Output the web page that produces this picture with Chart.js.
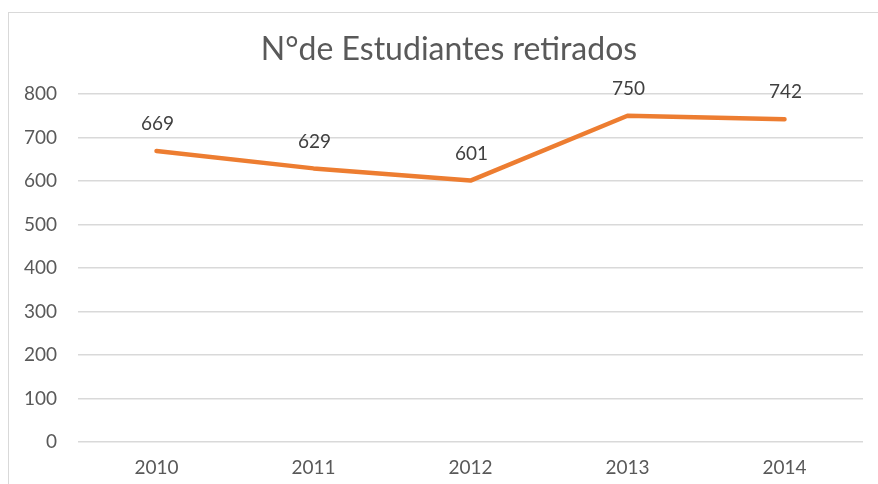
<!DOCTYPE html>
<html>
<head>
<meta charset="utf-8">
<script src="https://cdn.jsdelivr.net/npm/chart.js@4/dist/chart.umd.min.js"></script>
<style>
  html, body { margin: 0; padding: 0; background: #fff; }
  #wrap { position: relative; width: 878px; height: 484px; overflow: hidden; }
  #frame {
    position: absolute; left: 8px; top: 12px; width: 900px; height: 500px;
    border-left: 1px solid #d9d9d9; border-top: 1px solid #d9d9d9;
  }
  #chartCanvas { position: absolute; left: 0; top: 0; }
</style>
</head>
<body>
<div id="wrap">
  <div id="frame"></div>
  <canvas id="chartCanvas" width="878" height="484"></canvas>
</div>
<script>
// Students withdrawn per year
const years = ["2010", "2011", "2012", "2013", "2014"];
const retirados = [669, 629, 601, 750, 742];
const yTicks = [0, 100, 200, 300, 400, 500, 600, 700, 800];
const chartTitle = "N°de Estudiantes retirados";

const FONT = "Lato, 'Noto Sans', sans-serif";

// value labels above each point, plus the title centred over the frame
const pointLabels = {
  id: "pointLabels",
  afterDatasetsDraw(chart) {
    const ctx = chart.ctx;
    const meta = chart.getDatasetMeta(0);
    ctx.save();
    ctx.font = "19px " + FONT;
    ctx.fillStyle = "#404040";
    ctx.textAlign = "center";
    ctx.textBaseline = "middle";
    meta.data.forEach((pt, i) => {
      ctx.fillText(String(retirados[i]), pt.x + 1, pt.y - 27);
    });

    ctx.font = "32px " + FONT;
    ctx.fillStyle = "#595959";
    ctx.textBaseline = "alphabetic";
    ctx.fillText(chartTitle, 449, 60);
    ctx.restore();
  }
};

function renderChart() {
  const ctx = document.getElementById("chartCanvas").getContext("2d");
  window.myChart = new Chart(ctx, {
    type: "line",
    data: {
      labels: years,
      datasets: [{
        label: chartTitle,
        data: retirados,
        borderColor: "#ED7D31",
        backgroundColor: "#ED7D31",
        borderWidth: 4.5,
        pointRadius: 0,
        tension: 0,
        borderCapStyle: "round",
        borderJoinStyle: "round"
      }]
    },
    options: {
      responsive: false,
      animation: false,
      layout: { padding: { left: 0, right: 15, top: 94, bottom: 0 } },
      plugins: {
        legend: { display: false },
        tooltip: { enabled: false },
        title: { display: false }
      },
      scales: {
        x: {
          offset: true,
          grid: { display: false, drawTicks: false },
          border: { display: false },
          ticks: { color: "#595959", font: { family: FONT, size: 19 }, padding: 14 },
          afterFit(scale) { scale.height = 42; }
        },
        y: {
          min: 0,
          max: 800,
          afterBuildTicks(scale) { scale.ticks = yTicks.map(v => ({ value: v })); },
          grid: { color: "#d9d9d9", lineWidth: 1.5, drawTicks: false },
          border: { display: false },
          ticks: { color: "#595959", font: { family: FONT, size: 19 }, padding: 21 },
          afterFit(scale) { scale.width = 78; }
        }
      }
    },
    plugins: [pointLabels]
  });
}

renderChart();
</script>
</body>
</html>
